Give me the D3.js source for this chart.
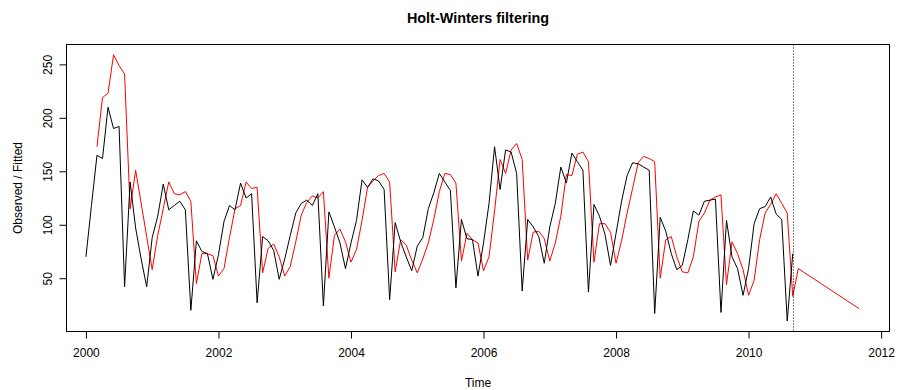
<!DOCTYPE html>
<html>
<head>
<meta charset="utf-8">
<script src="https://cdn.jsdelivr.net/npm/d3@7"></script>
<style>
  body { margin: 0; background: #fff; }
  svg { font-family: "Liberation Sans", Arial, sans-serif; }
</style>
</head>
<body>
<div id="chart"></div>
<script>
// Série observée (mensuelle, janv. 2000 -> sept. 2010)
const observed = [
  70, 118, 165, 162, 210, 190, 192, 42, 140, 97, 68, 42,
  88, 108, 138, 114, 118, 122, 114, 20, 85, 75, 73, 49,
  72, 103, 118, 114, 139, 125, 129, 27, 89, 85, 76, 49,
  68, 90, 111, 120, 123, 118, 129, 24, 112, 98, 83, 59,
  83, 104, 142, 135, 143, 141, 133, 30, 102, 84, 70, 57,
  80, 88, 115, 130, 148, 140, 132, 41, 105, 87, 86, 52,
  83, 120, 173, 133, 170, 168, 148, 38, 105, 98, 89, 64,
  98, 120, 154, 139, 167, 159, 151, 37, 119, 108, 91, 62,
  92, 122, 146, 158, 157, 154, 151, 17, 107, 94, 73, 58,
  62, 86, 113, 109, 122, 123, 124, 18, 104, 70, 59, 34,
  59, 101, 115, 117, 126, 110, 105, 10, 73
];

// Valeurs ajustées (à partir de mars 2000)
const fitted = [
  173, 219, 223, 259, 249, 241, 115, 151, 120, 89,
  58, 90, 115, 140, 129, 128, 131, 122, 45, 73, 73, 71,
  52, 59, 88, 115, 118, 140, 134, 135, 55, 78, 82, 70,
  52, 61, 84, 109, 121, 127, 125, 131, 50, 90, 96, 84,
  65, 77, 104, 135, 141, 146, 148, 140, 56, 86, 81, 67,
  55, 68, 83, 105, 131, 148, 147, 139, 66, 92, 86, 83,
  57, 70, 113, 161, 148, 170, 176, 161, 67, 93, 94, 87,
  66, 83, 108, 147, 146, 166, 168, 159, 65, 101, 101, 93,
  64, 85, 111, 134, 158, 164, 162, 159, 50, 86, 89, 70,
  56, 55, 70, 103, 111, 123, 126, 128, 44, 84, 73, 58,
  34, 48, 86, 111, 119, 129, 120, 111, 33
];

// Prévision (oct. 2010 -> sept. 2011)
const forecast = [59.0, 55.6, 52.2, 48.8, 45.4, 42.0, 38.6, 35.2, 31.8, 28.4, 25.0, 21.6];

const xTicks = [2000, 2002, 2004, 2006, 2008, 2010, 2012];
const yTicks = [50, 100, 150, 200, 250];

const width = 897;
const height = 390;
const box = { left: 66.5, right: 889.5, top: 44.5, bottom: 331.5 };

const svg = d3.select('#chart')
  .append('svg')
  .attr('width', width)
  .attr('height', height)
  .attr('viewBox', [0, 0, width, height]);

const x = d3.scaleLinear()
  .domain([1999.7067, 2012.1267])
  .range([box.left, box.right]);

const y = d3.scaleLinear()
  .domain([0.16, 268.6])
  .range([box.bottom, box.top]);

// Séries temporelles : temps = début + i / 12
const obsSeries = observed.map((v, i) => ({ t: 2000 + i / 12, v }));
const redSeries = fitted.concat(forecast).map((v, i) => ({ t: 2000 + (i + 2) / 12, v }));
const lastObs = obsSeries[obsSeries.length - 1].t;

const line = d3.line()
  .x(d => x(d.t))
  .y(d => y(d.v));

svg.append('path')
  .datum(redSeries)
  .attr('fill', 'none')
  .attr('stroke', '#ff0000')
  .attr('stroke-width', 1)
  .attr('d', line);

svg.append('path')
  .datum(obsSeries)
  .attr('fill', 'none')
  .attr('stroke', '#000')
  .attr('stroke-width', 1)
  .attr('d', line);

// Ligne verticale pointillée en fin d'observation
svg.append('line')
  .attr('x1', Math.round(x(lastObs)) + 0.5)
  .attr('x2', Math.round(x(lastObs)) + 0.5)
  .attr('y1', box.top)
  .attr('y2', box.bottom)
  .attr('stroke', '#000')
  .attr('stroke-dasharray', '1,2');

// Cadre
svg.append('rect')
  .attr('x', box.left)
  .attr('y', box.top)
  .attr('width', box.right - box.left)
  .attr('height', box.bottom - box.top)
  .attr('fill', 'none')
  .attr('stroke', '#000');

// Axe X
const xAxis = svg.append('g')
  .attr('transform', `translate(0,${box.bottom})`)
  .call(d3.axisBottom(x)
    .tickValues(xTicks)
    .tickFormat(d3.format('d'))
    .tickSize(7)
    .tickSizeOuter(0));
xAxis.select('.domain').remove();
xAxis.selectAll('line').attr('stroke', '#000');
xAxis.selectAll('text')
  .attr('y', 25.5)
  .attr('dy', null)
  .attr('fill', '#000')
  .style('font-size', '12px');

// Axe Y (étiquettes verticales comme R)
const yAxis = svg.append('g')
  .attr('transform', `translate(${box.left},0)`)
  .call(d3.axisLeft(y)
    .tickValues(yTicks)
    .tickSize(7)
    .tickSizeOuter(0));
yAxis.select('.domain').remove();
yAxis.selectAll('line').attr('stroke', '#000');
yAxis.selectAll('text')
  .attr('x', 0)
  .attr('y', -14.5)
  .attr('dy', null)
  .attr('transform', 'rotate(-90)')
  .attr('text-anchor', 'middle')
  .attr('fill', '#000')
  .style('font-size', '12px');

// Titres
svg.append('text')
  .attr('x', (box.left + box.right) / 2)
  .attr('y', 23)
  .attr('text-anchor', 'middle')
  .style('font-size', '14.4px')
  .style('font-weight', 'bold')
  .text('Holt-Winters filtering');

svg.append('text')
  .attr('x', (box.left + box.right) / 2)
  .attr('y', 387)
  .attr('text-anchor', 'middle')
  .style('font-size', '12px')
  .text('Time');

svg.append('text')
  .attr('transform', `translate(22,${(box.top + box.bottom) / 2}) rotate(-90)`)
  .attr('text-anchor', 'middle')
  .style('font-size', '12px')
  .text('Observed / Fitted');
</script>
</body>
</html>
